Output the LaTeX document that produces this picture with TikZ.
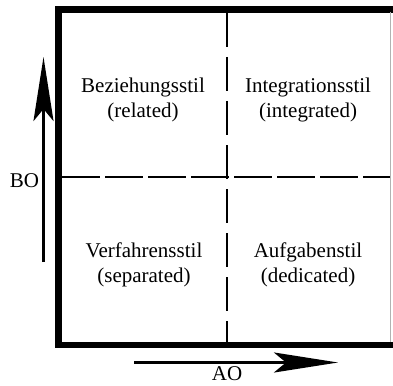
\documentclass[tikz,border=0pt]{standalone}
\usepackage{fontspec}
\setmainfont{Liberation Serif}
\usetikzlibrary{arrows.meta}

\begin{document}
\begin{tikzpicture}[x=1pt, y=-1pt,
        every node/.style={font=\fontsize{21}{25}\selectfont},
        quadrant/.style={align=center},
        axislabel/.style={inner sep=0pt, anchor=base},
        frame/.style={line width=6.5pt},
        divider/.style={line width=2.5pt},
        axis/.style={line width=3pt, -{Stealth[length=64pt, width=20pt, inset=12pt]}}]

        \useasboundingbox (0,0) rectangle (393,385);

        \draw[frame] (393,9.5) -- (58.5,9.5) -- (58.5,345) -- (393,345);
        \draw[gray!60, line width=1pt] (390,12) -- (390,342);

        \draw[divider, dash pattern=on 34pt off 10pt] (227,13) -- (227,342);
        \draw[divider, dash pattern=on 38pt off 5pt] (62,177) -- (390,177);

        \node[quadrant] (related) at (143,99.5) {Beziehungsstil\\(related)};
        \node[quadrant] (integrated) at (308,99.5) {Integrationsstil\\(integrated)};
        \node[quadrant] (separated) at (144,264.5) {Verfahrensstil\\(separated)};
        \node[quadrant] (dedicated) at (308,264.5) {Aufgabenstil\\(dedicated)};

        \coordinate (bostart) at (43.5,262);
        \coordinate (boend) at (43.5,57);
        \coordinate (aostart) at (134,362.5);
        \coordinate (aoend) at (338,362.5);
        \draw[axis] (bostart) -- (boend);
        \draw[axis] (aostart) -- (aoend);

        \node[axislabel] (bo) at (24.5,187) {BO};
        \node[axislabel] (ao) at (227,380) {AO};
\end{tikzpicture}
\end{document}
